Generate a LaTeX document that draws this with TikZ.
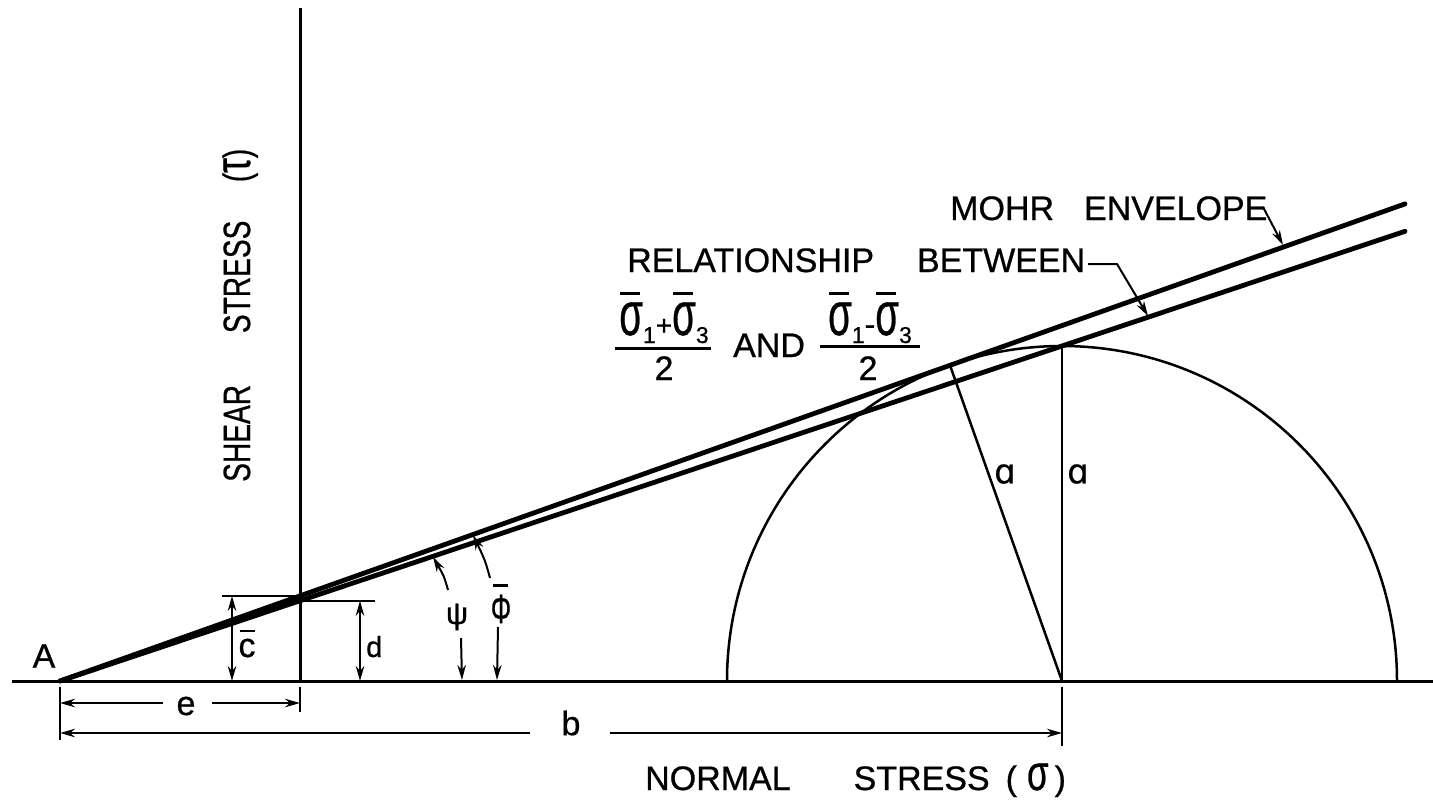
\documentclass[tikz,border=0pt]{standalone}
\usepackage{fontspec}
\setmainfont{Liberation Sans}[FakeBold=0.7]
\newfontfamily\djv{DejaVu Sans}[FakeBold=0.7]
\usetikzlibrary{arrows.meta}
\newcommand{\fs}[1]{\fontsize{#1}{#1}\selectfont}
\newcommand{\sg}{\scalebox{0.62}[1]{\fs{62}σ}}
\newcommand{\sgb}[1]{\rlap{\hspace*{1pt}\rule[40pt]{20pt}{3pt}}\sg\raisebox{-8pt}{\fs{23}#1}}
\begin{document}
\begin{tikzpicture}[x=1pt,y=-1pt,
  >={Stealth[length=15pt,width=8.5pt]},
  ax/.style={line width=3pt},
  env/.style={line width=4.8pt,line cap=round},
  thinl/.style={line width=2.5pt},
  dim/.style={line width=2pt},
  lbl/.style={font=\fs{34},inner sep=0pt}]
\useasboundingbox (0,0) rectangle (1433,809);
% key points
\coordinate (A) at (60,681);
\coordinate (C) at (1062,681);
\coordinate (T) at (1062,346);
\coordinate (P) at (950.0,365.3);
\coordinate (Me) at (1405,203.9);
\coordinate (Re) at (1405,231.3);
\coordinate (X0) at (12,681);
\coordinate (X1) at (1433,681);
\coordinate (Y0) at (300,8);
\coordinate (O) at (300,681);
\coordinate (Cl) at (727,681);
% axes
\draw[ax] (X0) -- (X1);
\draw[ax] (Y0) -- (O);
% envelope lines
\draw[env] (A) -- (Me);
\draw[env] (A) -- (Re);
% Mohr circle and radii
\draw[thinl] (Cl) arc[start angle=180,end angle=360,radius=335];
\draw[thinl] (C) -- (P);
\draw[thinl] (C) -- (T);
\node[lbl] (la1) at (1005,474) {\djv ɑ};
\node[lbl] (la2) at (1078,474) {\djv ɑ};
% c-bar dimension
\coordinate (ce1) at (222,595.9);
\coordinate (ce2) at (300,595.9);
\draw[dim] (ce1) -- (ce2);
\coordinate (cd1) at (232,595.9);
\coordinate (cd2) at (232,681);
\draw[dim,<->] (cd1) -- (cd2);
\node[lbl,anchor=base] (lc) at (247,657) {\rlap{\hspace*{1pt}\rule[25pt]{15pt}{2.5pt}}c};
% d dimension
\coordinate (de1) at (300,600.8);
\coordinate (de2) at (375,600.8);
\draw[dim] (de1) -- (de2);
\coordinate (dd1) at (360,600.8);
\coordinate (dd2) at (360,681);
\draw[dim,<->] (dd1) -- (dd2);
\node[lbl,anchor=base west,font=\fs{29}] (ld) at (366,657) {d};
% psi
\node[lbl,font=\fs{31}] (psi) at (457,617) {ψ};
\coordinate (ps1) at (448,590);
\coordinate (ps2) at (433,557);
\coordinate (ps3) at (461,638);
\coordinate (ps4) at (462,680);
\draw[dim,->] (ps1) .. controls (444,576) .. (ps2);
\draw[dim,->] (ps3) -- (ps4);
% phi-bar
\node[lbl,anchor=base] (phi) at (501,623) {\rlap{\hspace*{2pt}\rule[36pt]{15pt}{3pt}}\scalebox{0.75}[1.2]{Φ}};
\coordinate (ph1) at (490,578);
\coordinate (ph2) at (473,535);
\coordinate (ph3) at (498,627);
\coordinate (ph4) at (497,680);
\draw[dim,->] (ph1) .. controls (485,560) .. (ph2);
\draw[dim,->] (ph3) -- (ph4);
% A
\node[lbl] (lA) at (44,656) {A};
% extension lines below axis
\coordinate (eA1) at (60,687); \coordinate (eA2) at (60,740);
\coordinate (eO1) at (300,687); \coordinate (eO2) at (300,712);
\coordinate (eC1) at (1062,687); \coordinate (eC2) at (1062,746);
\draw[dim] (eA1) -- (eA2);
\draw[dim] (eO1) -- (eO2);
\draw[dim] (eC1) -- (eC2);
% e dimension
\node[lbl] (le) at (186,706) {e};
\coordinate (e1) at (60,703); \coordinate (e2) at (163,703);
\coordinate (e3) at (212,703); \coordinate (e4) at (300,703);
\draw[dim,->] (e2) -- (e1);
\draw[dim,->] (e3) -- (e4);
% b dimension
\node[lbl] (lb) at (571,723) {b};
\coordinate (b1) at (60,733); \coordinate (b2) at (530,733);
\coordinate (b3) at (610,733); \coordinate (b4) at (1062,733);
\draw[dim,->] (b2) -- (b1);
\draw[dim,->] (b3) -- (b4);
% texts
\node[lbl,anchor=base west] (mohr) at (950,220) {MOHR\hspace{30pt}ENVELOPE};
\node[lbl,anchor=base west] (rel) at (627,272) {RELATIONSHIP\hspace{43pt}BETWEEN};
\coordinate (m1) at (1263,207); \coordinate (m2) at (1283,245);
\draw[dim,->] (m1) -- (m2);
\coordinate (r1) at (1088,264); \coordinate (r2) at (1117,264); \coordinate (r3) at (1148,316);
\draw[dim,->] (r1) -- (r2) -- (r3);
% fractions
\node[lbl,anchor=base] (n1) at (664,335) {\sgb{1}{\fs{28}+}\sgb{3}};
\coordinate (f1a) at (615,348); \coordinate (f1b) at (711,348);
\draw[line width=3pt] (f1a) -- (f1b);
\node[lbl,anchor=base] (dn1) at (664,380) {2};
\node[lbl,anchor=base west] (and) at (733,357) {AND};
\node[lbl,anchor=base] (n2) at (870,335) {\sgb{1}{\fs{32}-}\sgb{3}};
\coordinate (f2a) at (820,346); \coordinate (f2b) at (920,346);
\draw[line width=3pt] (f2a) -- (f2b);
\node[lbl,anchor=base] (dn2) at (868,380) {2};
% axis titles
\node[lbl,anchor=base west] (nx) at (645,790) {NORMAL\hspace{63pt}STRESS\hspace{16pt}(\hspace{10pt}\scalebox{0.7}[1]{\fs{50}σ}\hspace{6pt})};
\node[lbl,anchor=base west,rotate=90] (ny) at (250,482) {\scalebox{0.74}[1]{\fs{38}SHEAR\hspace{70pt}STRESS\hspace{52pt}({\fs{50}τ})}};
\end{tikzpicture}
\end{document}
